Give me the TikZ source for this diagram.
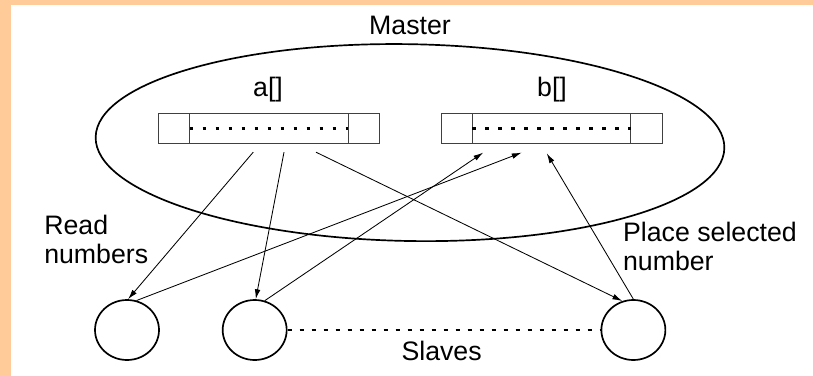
\documentclass[tikz,border=0pt]{standalone}
\usepackage{fontspec}
\setmainfont{Liberation Sans}
\usetikzlibrary{arrows.meta}
\usetikzlibrary{shapes.geometric}
\usetikzlibrary{positioning}
\definecolor{frame}{RGB}{255, 204, 153}
\tikzset{link/.style = {-{Latex[length = 7pt, width = 4pt]}, line width = 0.6pt},
         slave/.style = {draw, ellipse, line width = 1.2pt, minimum width = 1.6cm,
                         minimum height = 1.5cm, inner sep = 0},
         store/.style = {draw, black!75, line width = 0.6pt, minimum width = 5.52cm,
                         minimum height = 0.74cm, inner sep = 0},
         words/.style = {font = \fontsize{19}{20.6}\selectfont, inner sep = 0},
         dots/.style = {line width = 1.6pt, dash pattern = on 0.083cm off 0.242cm}}

\begin{document}
\begin{tikzpicture}
      \useasboundingbox (0, 0) rectangle (20.325, 9.375);
      \fill [white] (-0.2, -0.2) rectangle (20.6, 9.6);
      \fill [frame] (-0.2, -0.2) rectangle (0.275, 9.6);
      \fill [frame] (-0.2, 9.25) rectangle (20.6, 9.6);

      \draw [line width = 1.2pt, rotate around = {-1:(10.25, 5.81)}]
        (10.25, 5.81) ellipse (7.86 and 2.46);
      \node [words, anchor = base] (master) at (10.25, 8.5) {Master};

      \node [words, anchor = base] (nameA) at (6.7, 6.96) {a[]};
      \node [words, anchor = base] (nameB) at (13.8, 6.96) {b[]};
      \node [store] (arrA) at (6.72, 6.16) {};
      \node [store] (arrB) at (13.79, 6.16) {};
      \foreach \arr in {arrA, arrB} {
        \draw [black!75, line width = 0.6pt]
          ([xshift = 0.79cm] \arr.north west) -- ([xshift = 0.79cm] \arr.south west)
          ([xshift = -0.79cm] \arr.north east) -- ([xshift = -0.79cm] \arr.south east);
        \draw [dots] ([xshift = 0.79cm] \arr.west) -- ([xshift = -0.79cm] \arr.east);
      }

      \node [slave] (s1) at (3.175, 1.125) {};
      \node [slave, right = 1.55cm of s1] (s2) {};
      \node [slave, right = 7.825cm of s2] (s3) {};
      \draw [line width = 1.2pt, dash pattern = on 0.11cm off 0.19cm] (s2) -- (s3);
      \node [words, anchor = base] (slaves) at (11.04, 0.375) {Slaves};

      \coordinate (a1) at (6.33, 5.57);
      \coordinate (a2) at (7.1, 5.57);
      \coordinate (a3) at (7.9, 5.57);
      \coordinate (b1) at (12.08, 5.56);
      \coordinate (b2) at (13.04, 5.56);
      \coordinate (b3) at (13.67, 5.54);

      \draw [link] (a1) -- (s1.88);
      \draw [link] (a2) -- (s2.88);
      \draw [link] (a3) -- (s3.111);
      \draw [link] (s1.72) -- (b2);
      \draw [link] (s2.71) -- (b1);
      \draw [link] (s3.90) -- (b3);

      \node [words, anchor = south west, align = left] (read) at (1.1, 2.775) {Read\\numbers};
      \node [words, anchor = south west, align = left] (place) at (15.57, 2.6) {Place selected\\number};
    \end{tikzpicture}
\end{document}
